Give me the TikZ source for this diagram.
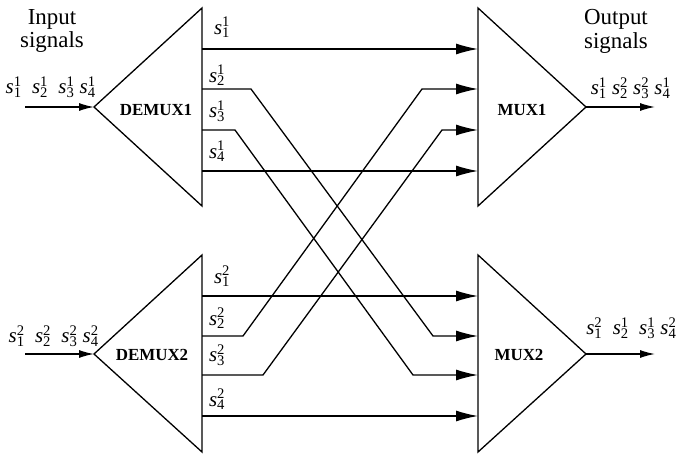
\documentclass[tikz,border=0pt]{standalone}
\usepackage{fontspec}
\setmainfont{Liberation Serif}
\usetikzlibrary{arrows.meta}
% channel name s with index and source number
\newcommand{\sig}[2]{\textit{s}\rlap{\textsuperscript{#2}}\textsubscript{#1}}

\begin{document}
\begin{tikzpicture}[x=1bp, y=-1bp, line width=1.3bp,
    bigarrow/.style={-{Latex[length=22bp, width=11bp]}},
    smallarrow/.style={-{Latex[length=15bp, width=8bp]}},
    blocklabel/.style={font=\fontsize{17}{17}\selectfont\bfseries, inner sep=0pt},
    siglabel/.style={font=\fontsize{21}{21}\selectfont, inner sep=0pt},
    headlabel/.style={font=\fontsize{23}{24}\selectfont, align=center, inner sep=0pt}]
    \useasboundingbox (0,0) rectangle (677,456);
    % Draw the demultiplexers and multiplexers as triangles
    \draw (94,107) -- (202,8) -- (202,206) -- cycle;
    \draw (94,354) -- (202,255) -- (202,452) -- cycle;
    \draw (478,8) -- (478,206) -- (586,107) -- cycle;
    \draw (478,255) -- (478,452) -- (586,354) -- cycle;
    \node[blocklabel] (demux1) at (156,110) {DEMUX1};
    \node[blocklabel] (demux2) at (152,355) {DEMUX2};
    \node[blocklabel] (mux1) at (522,110) {MUX1};
    \node[blocklabel] (mux2) at (519,355) {MUX2};
    % Ports on the triangle sides
    \foreach \i/\y in {1/49, 2/89, 3/130, 4/171} {
        \coordinate (d1o\i) at (202,\y);
        \coordinate (m1i\i) at (478,\y);
    }
    \foreach \i/\y in {1/296, 2/336, 3/375, 4/416} {
        \coordinate (d2o\i) at (202,\y);
        \coordinate (m2i\i) at (478,\y);
    }
    \coordinate (in1) at (25,107);
    \coordinate (in2) at (25,354);
    \coordinate (d1a) at (94,107);
    \coordinate (d2a) at (94,354);
    \coordinate (m1a) at (586,107);
    \coordinate (m2a) at (586,354);
    \coordinate (out1) at (655,107);
    \coordinate (out2) at (655,354);
    % Input and output signals
    \draw[smallarrow] (in1) -- (d1a);
    \draw[smallarrow] (in2) -- (d2a);
    \draw[smallarrow] (m1a) -- (out1);
    \draw[smallarrow] (m2a) -- (out2);
    % Straight channels
    \draw[bigarrow] (d1o1) -- (m1i1);
    \draw[bigarrow] (d1o4) -- (m1i4);
    \draw[bigarrow] (d2o1) -- (m2i1);
    \draw[bigarrow] (d2o4) -- (m2i4);
    % Swapped channels
    \draw[bigarrow] (d1o2) -- (251,89) -- (433,336) -- (m2i2);
    \draw[bigarrow] (d1o3) -- (235,130) -- (413,375) -- (m2i3);
    \draw[bigarrow] (d2o2) -- (243,336) -- (422,89) -- (m1i2);
    \draw[bigarrow] (d2o3) -- (263,375) -- (442,130) -- (m1i3);
    % Channel labels
    \node[siglabel] (l11) at (222,27) {\sig{1}{1}};
    \node[siglabel] (l12) at (217,75) {\sig{2}{1}};
    \node[siglabel] (l13) at (217,111) {\sig{3}{1}};
    \node[siglabel] (l14) at (217,151) {\sig{4}{1}};
    \node[siglabel] (l21) at (222,276) {\sig{1}{2}};
    \node[siglabel] (l22) at (217,318) {\sig{2}{2}};
    \node[siglabel] (l23) at (217,355) {\sig{3}{2}};
    \node[siglabel] (l24) at (217,399) {\sig{4}{2}};
    % Signal sequences
    \node[siglabel, anchor=west] (seqin1) at (5,87) {\sig{1}{1}\enspace\sig{2}{1}\enspace\sig{3}{1}\ \sig{4}{1}};
    \node[siglabel, anchor=west] (seqin2) at (8,336) {\sig{1}{2}\enspace\sig{2}{2}\enspace\sig{3}{2}\ \sig{4}{2}};
    \node[siglabel, anchor=east] (seqout1) at (671,88) {\sig{1}{1}\ \sig{2}{2}\ \sig{3}{2}\ \sig{4}{1}};
    \node[siglabel, anchor=east] (seqout2) at (677,328) {\sig{1}{2}\enspace\sig{2}{1}\enspace\sig{3}{1}\ \sig{4}{2}};
    \node[headlabel] (inhead) at (52,31) {Input\\signals};
    \node[headlabel] (outhead) at (616,31) {Output\\signals};
\end{tikzpicture}
\end{document}
